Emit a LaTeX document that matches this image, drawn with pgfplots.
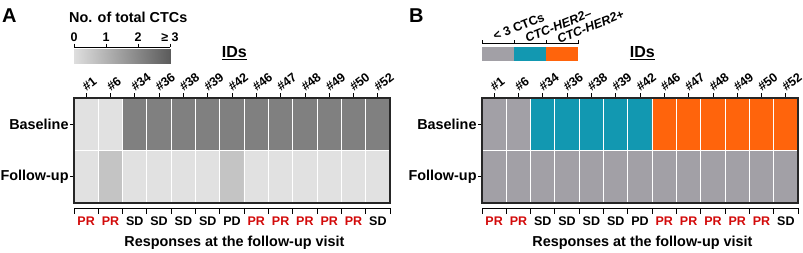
\documentclass[border=0pt]{standalone}
\usepackage{fontspec}
\setmainfont{Liberation Sans}
\usepackage{graphicx}
\usepackage{pgfplots}
\pgfplotsset{compat=1.18}

\definecolor{cLight}{RGB}{225,225,225}
\definecolor{cMid}{RGB}{196,196,196}
\definecolor{cDark}{RGB}{128,128,128}
\definecolor{cGray}{RGB}{162,160,166}
\definecolor{cTeal}{RGB}{18,152,177}
\definecolor{cOrange}{RGB}{255,100,12}
\definecolor{cRed}{RGB}{210,10,10}

\newcommand\fL{\fontsize{14.4}{16}\selectfont\bfseries}
\newcommand\fS{\fontsize{12.5}{14}\selectfont\bfseries}
\newcommand\fI{\fontsize{12.5}{14}\selectfont\bfseries}
\newcommand\fT{\fontsize{16}{18}\selectfont\bfseries}
\newcommand\fP{\fontsize{20}{22}\selectfont\bfseries}

\pgfplotsset{
  heat/.style={
    scale only axis, width=316pt, height=105pt,
    xmin=0, xmax=13, ymin=0, ymax=2,
    axis on top, clip=false,
    axis line style={line width=1.2pt, black!85},
    xtick={0.5,1.5,...,12.5},
    xticklabels={},
    xtick pos=right,
    ytick={0.5,1.5}, yticklabels={Follow-up,Baseline},
    ytick pos=left, yticklabel style={font=\fL, inner sep=1pt},
    tick align=outside,
    xtick style={/pgfplots/major tick length=5pt, line width=0.8pt, black},
    ytick style={/pgfplots/major tick length=4pt, line width=0.8pt, black},
    minor xtick={1,...,12}, minor ytick={1},
    xminorgrids, yminorgrids,
    minor grid style={white, line width=1pt},
    minor tick length=0pt,
    colormap access=direct,
  },
  bar/.style={
    scale only axis, width=96pt,
    xmin=0, xmax=3, ymin=0, ymax=1,
    clip=false,
    hide y axis,
    axis x line*=top,
    axis line style={line width=0.9pt, black},
    tick align=outside,
    xtick={0,1,2,3},
    xtick style={/pgfplots/major tick length=3.5pt, line width=0.9pt, black},
  }
}

\begin{document}
\begin{tikzpicture}
\useasboundingbox (0,0) rectangle (803pt,-252pt);

% ---------------- Panel A ----------------
\node[font=\fP, anchor=base west, inner sep=0] at (2pt,-22pt) {A};
\node[font=\fL, anchor=base west, inner sep=0] at (69pt,-22.5pt) {No. of total CTCs};

\begin{axis}[bar, at={(74pt,-63pt)}, anchor=south west, height=16pt,
  colormap={grad}{rgb255=(222,222,222) rgb255=(92,92,92)},
  xticklabels={0,1,2,≥ 3},
  xticklabel style={font=\fS, inner sep=1pt}]
\addplot[surf, shader=interp, point meta=x, mesh/cols=2] coordinates {(0,0) (3,0) (0,0.875) (3,0.875)};
\end{axis}

\begin{axis}[heat, at={(74pt,-203pt)}, anchor=south west,
  colormap={cmA}{color=(cLight) color=(cMid) color=(cDark)}]
\addplot[matrix plot*, mesh/cols=13, point meta=explicit] table[meta=c] {
x y c
0.5 0.5 0
1.5 0.5 1
2.5 0.5 0
3.5 0.5 0
4.5 0.5 0
5.5 0.5 0
6.5 0.5 1
7.5 0.5 0
8.5 0.5 0
9.5 0.5 0
10.5 0.5 0
11.5 0.5 0
12.5 0.5 0
0.5 1.5 0
1.5 1.5 0
2.5 1.5 2
3.5 1.5 2
4.5 1.5 2
5.5 1.5 2
6.5 1.5 2
7.5 1.5 2
8.5 1.5 2
9.5 1.5 2
10.5 1.5 2
11.5 1.5 2
12.5 1.5 2
};
\node[font=\fT, anchor=base, inner sep=0] at (axis cs:6.6,2.77) {\underline{IDs}};
\node[font=\fL, anchor=base, inner sep=0] at (axis cs:6.6,-0.83) {Responses at the follow-up visit};
\end{axis}

% ---------------- Panel B ----------------
\node[font=\fP, anchor=base west, inner sep=0] at (409pt,-22pt) {B};

\begin{axis}[bar, at={(482pt,-61pt)}, anchor=south west, height=17.5pt,
  xticklabels={}]
\addplot[fill=cGray, draw=none] coordinates {(0,0) (1,0) (1,0.82) (0,0.82)} -- cycle;
\addplot[fill=cTeal, draw=none] coordinates {(1,0) (2,0) (2,0.82) (1,0.82)} -- cycle;
\addplot[fill=cOrange, draw=none] coordinates {(2,0) (3,0) (3,0.82) (2,0.82)} -- cycle;
\end{axis}
\node[font=\fS, anchor=south west, inner sep=0] at (492pt,-41pt) {\rotatebox{22}{< 3 CTCs}};
\node[font=\fS\itshape, anchor=south west, inner sep=0] at (524pt,-43pt) {\rotatebox{22}{CTC-HER2\textendash}};
\node[font=\fS\itshape, anchor=south west, inner sep=0] at (556pt,-44pt) {\rotatebox{22}{CTC-HER2+}};

\begin{axis}[heat, at={(482pt,-203pt)}, anchor=south west,
  colormap={cmB}{color=(cGray) color=(cTeal) color=(cOrange)}]
\addplot[matrix plot*, mesh/cols=13, point meta=explicit] table[meta=c] {
x y c
0.5 0.5 0
1.5 0.5 0
2.5 0.5 0
3.5 0.5 0
4.5 0.5 0
5.5 0.5 0
6.5 0.5 0
7.5 0.5 0
8.5 0.5 0
9.5 0.5 0
10.5 0.5 0
11.5 0.5 0
12.5 0.5 0
0.5 1.5 0
1.5 1.5 0
2.5 1.5 1
3.5 1.5 1
4.5 1.5 1
5.5 1.5 1
6.5 1.5 1
7.5 1.5 2
8.5 1.5 2
9.5 1.5 2
10.5 1.5 2
11.5 1.5 2
12.5 1.5 2
};
\node[font=\fT, anchor=base, inner sep=0] at (axis cs:6.6,2.77) {\underline{IDs}};
\node[font=\fL, anchor=base, inner sep=0] at (axis cs:6.6,-0.83) {Responses at the follow-up visit};
\end{axis}

% ID labels, response brackets and labels
\foreach \xo in {74,482} {
  \foreach \k/\t in {0/1,1/6,2/34,3/36,4/38,5/39,6/42,7/46,8/47,9/48,10/49,11/50,12/52}
    {\node[font=\fI, anchor=south west, inner sep=0] at ({\xo pt+(\k+0.5)*24.3077pt-5pt},-92pt) {\rotatebox{38}{\#\t}};}
  \draw[line width=0.9pt, black] (\xo pt,-213.5pt) -- (\xo pt,-208pt) -- ({\xo pt+316pt},-208pt) -- ({\xo pt+316pt},-213.5pt);
  \foreach \k in {1,...,12} {\draw[line width=0.9pt, black] ({\xo pt+\k*24.3077pt},-208pt) -- ({\xo pt+\k*24.3077pt},-213.5pt);}
  \foreach \k/\t/\c in {0/PR/cRed,1/PR/cRed,2/SD/black,3/SD/black,4/SD/black,5/SD/black,6/PD/black,7/PR/cRed,8/PR/cRed,9/PR/cRed,10/PR/cRed,11/PR/cRed,12/SD/black}
    {\node[font=\fS, text=\c, anchor=base, inner sep=0] at ({\xo pt+(\k+0.5)*24.3077pt},-225pt) {\t};}
}
\end{tikzpicture}
\end{document}
